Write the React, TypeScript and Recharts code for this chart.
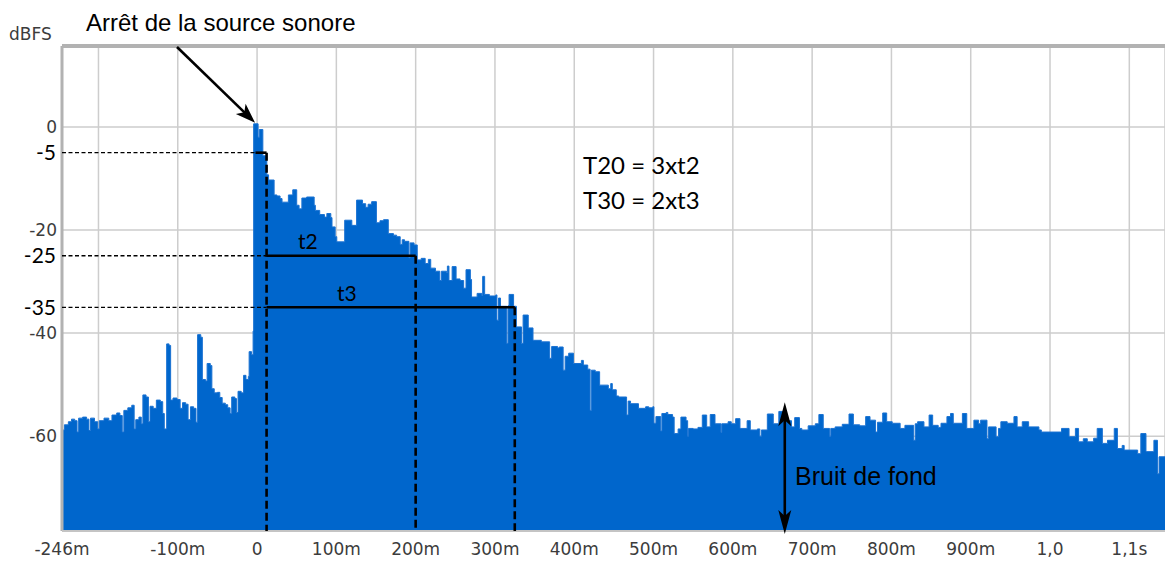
import { ComposedChart, Area, XAxis, YAxis, CartesianGrid, ReferenceLine } from "recharts";

const X_MIN = -246;
const X_MAX = 1145;
const Y_MIN = -78.4;
const Y_MAX = 15.7;

const xTicks = [-246, -200, -100, 0, 100, 200, 300, 400, 500, 600, 700, 800, 900, 1000, 1100];
const xTickLabels = ["-246m", "", "-100m", "0", "100m", "200m", "300m", "400m", "500m", "600m", "700m", "800m", "900m", "1,0", "1,1s"];
const yTicks = [0, -20, -40, -60];

// [time ms, level dBFS]
const preOnset: [number, number][] = [
  [-246, -58.8], [-243, -57.8], [-238, -57.2], [-234, -56.7], [-230, -57.0], [-227, -59.2],
  [-225, -56.5], [-220, -56.3], [-215, -56.7], [-212, -58.9], [-210, -56.5], [-205, -57.2],
  [-201, -58.6], [-199, -57.0], [-193, -56.5], [-187, -57.0], [-183, -55.9], [-177, -55.5],
  [-173, -56.0], [-170, -59.2], [-168, -55.0], [-163, -54.5], [-158, -54.0], [-155, -58.6],
  [-153, -56.8], [-149, -56.3], [-146, -57.6], [-144, -52.0], [-140, -52.4], [-137, -57.2],
  [-135, -54.2], [-131, -54.6], [-127, -53.0], [-122, -53.3], [-119, -55.6], [-117, -58.6],
  [-114, -42.1], [-111, -42.4], [-109, -53.0], [-106, -52.6], [-101, -52.9], [-97, -54.6],
  [-94, -53.5], [-90, -53.8], [-87, -56.8], [-84, -54.3], [-80, -54.6], [-77, -57.3],
  [-75, -40.3], [-71, -40.8], [-69, -49.0], [-65, -49.3], [-63, -45.9], [-59, -46.3],
  [-57, -50.8], [-54, -51.6], [-50, -51.5], [-47, -52.5], [-44, -53.6], [-40, -53.9],
  [-37, -54.5], [-34, -55.6], [-32, -52.4], [-28, -52.7], [-26, -55.4], [-24, -51.3],
  [-20, -51.6], [-17, -48.2], [-14, -49.0], [-11, -48.4], [-10, -43.6], [-7, -44.2],
  [-5, -39.6],
];

const onset: [number, number][] = [
  [-4.3, 0.6], [1.3, -2.0], [2.8, -0.5], [7.3, -5.6], [12.3, -9.3], [14.5, -10.3],
  [21.5, -13.2], [25, -13.4], [29, -13.9], [31.5, -14.6], [39.5, -13.2], [45, -12.2],
  [50, -15.2], [53, -15.9], [56.5, -13.8], [62.5, -13.6], [72, -15.2], [73.5, -16.2],
  [79, -17.0], [85, -17.5], [88, -16.8], [93, -17.6], [94.5, -19.4], [98.5, -21.3],
  [100.5, -22.3], [110.5, -18.1], [119.5, -19.1], [125.5, -14.2], [133, -14.9], [137, -15.6],
  [140, -15.0], [144.5, -14.5], [150.5, -18.6], [155, -18.2], [159.5, -18.0], [165.5, -20.7],
  [172, -21.0], [176, -21.3], [180.5, -22.8], [183, -21.9], [186, -22.2], [191.5, -25.4],
  [193, -22.5], [198, -22.9],
];

const decay: [number, number][] = [
  [202, -25.8], [207, -25.5], [212, -26.5], [216, -25.7], [219, -27.4], [225, -28.0],
  [230.5, -29.8], [232.5, -28.0], [239, -28.3], [240, -27.0], [242, -29.8], [246, -27.1],
  [251, -29.5], [256, -29.8], [260.5, -31.3], [263.5, -27.7], [269, -29.6], [270.5, -33.0],
  [277.5, -32.3], [283.5, -32.7], [284.5, -29.0], [287, -32.5], [293, -32.8], [301, -32.6],
  [302.5, -37.5], [304.5, -33.2], [307, -34.8], [315, -42.0], [316.5, -34.7], [317.8, -32.5],
  [323.5, -34.8], [327, -38.8], [333.5, -42.0], [335.5, -36.5], [342, -39.0], [348, -41.4],
  [358.5, -41.7], [369, -44.9], [371.5, -42.6], [379, -42.9], [381, -42.7], [386, -47.2],
  [388.5, -44.5], [393, -43.9], [399, -45.9], [409, -45.3], [411.5, -46.2], [417, -47.0],
  [420, -55.0], [421.5, -47.2], [426.5, -47.5], [432, -50.1], [443, -50.8], [446, -49.8],
  [448, -51.0], [453, -52.2], [456, -52.4], [466, -55.9], [468, -53.2], [471, -53.7],
  [481, -54.6],
];

const noiseFloor: [number, number][] = [
  [484, -54.6], [490, -54.3], [494, -54.5], [499, -54.3], [500.5, -57.5], [503, -56.2],
  [509, -59.0], [510.5, -55.6], [516, -55.4], [518, -55.8], [524, -56.3], [526, -59.5],
  [531, -58.6], [534.5, -56.3], [541, -57.0], [543, -60.0], [544, -58.5], [550, -58.6],
  [556, -58.3], [561.5, -55.9], [567, -58.2], [571.5, -55.8], [577.5, -57.6], [585, -59.3],
  [586, -57.6], [594, -57.2], [598, -57.6], [603.5, -56.6], [609, -58.5], [618, -57.0],
  [622, -58.8], [631, -58.6], [634, -60.0], [636, -58.8], [643.5, -55.7], [651, -57.6],
  [658, -55.2], [665, -57.0], [674, -58.2], [678, -56.4], [684, -58.5], [687, -58.8],
  [695, -58.0], [704, -57.6], [708.5, -55.8], [714, -58.5], [722, -60.0], [723.5, -58.5],
  [729, -58.2], [738, -57.7], [746.5, -55.7], [752, -57.8], [760, -58.0], [767.5, -56.2],
  [773, -56.9], [780, -59.2], [782.5, -57.3], [789, -55.5], [794, -57.2], [801, -57.5],
  [811, -58.5], [817, -57.9], [828, -60.8], [830, -57.6], [833, -57.2], [841, -58.2],
  [847.5, -55.9], [852, -57.9], [859, -58.3], [862.5, -57.5], [870, -56.2], [874.5, -55.6],
  [878, -57.5], [889.5, -55.6], [895, -58.5], [904, -56.9], [910, -57.6], [912.5, -56.9],
  [920.5, -60.5], [922.5, -58.2], [932, -60.1], [935, -58.5], [938, -57.2], [946, -57.5],
  [954.5, -56.2], [958.5, -58.2], [965, -57.2], [973, -58.2], [986, -58.8], [989, -59.2],
  [1014.5, -58.5], [1024, -60.1], [1032, -58.5], [1036, -61.1], [1042, -60.5], [1047, -61.1],
  [1055, -60.4], [1059.5, -58.5], [1066, -61.4], [1072.5, -60.8], [1081, -58.5], [1085, -62.4],
  [1091, -61.8], [1093.5, -62.7], [1110.5, -63.4], [1114.5, -59.5], [1121, -63.0], [1131, -60.8],
  [1135.5, -67.3], [1137.5, -64.0], [1145, -64.0],
];

// reading levels: level, start of the decay, end time
const startT = 12;
const readings = [
  { db: -5, end: startT },
  { db: -25, end: 200 },
  { db: -35, end: 325 },
];

const levels = [...preOnset, ...onset, ...decay, ...noiseFloor].map(([t, db]) => ({ t, db }));

const arrow = (both: boolean, L: number, W: number) => (p: any) => {
  const { x1, y1, x2, y2 } = p;
  const d = Math.hypot(x2 - x1, y2 - y1);
  const ux = (x2 - x1) / d;
  const uy = (y2 - y1) / d;
  const head = (tx: number, ty: number, dx: number, dy: number) => {
    const bx = tx - dx * L, by = ty - dy * L;
    const mx = tx - dx * L * 0.75, my = ty - dy * L * 0.75;
    return `${tx},${ty} ${bx - dy * W},${by + dx * W} ${mx},${my} ${bx + dy * W},${by - dx * W}`;
  };
  return (
    <g>
      <line
        x1={both ? x1 + ux * L * 0.6 : x1}
        y1={both ? y1 + uy * L * 0.6 : y1}
        x2={x2 - ux * L * 0.6}
        y2={y2 - uy * L * 0.6}
        stroke="#000"
        strokeWidth={2.6}
      />
      <polygon points={head(x2, y2, ux, uy)} fill="#000" />
      {both && <polygon points={head(x1, y1, -ux, -uy)} fill="#000" />}
    </g>
  );
};

const tickStyle = { fontSize: 17, fill: "#3c3c3c", fontFamily: "DejaVu Sans" };
const note = { fontFamily: "Lato", fontSize: 22, fill: "#000" };

export default function App() {
  return (
    <div style={{ position: "absolute", left: 0, top: 0, width: 1165, height: 561, background: "#fff" }}>
      <ComposedChart width={1165} height={561} data={levels} margin={{ top: 46, right: 0, bottom: 0, left: 0 }}>
        <CartesianGrid stroke="#cdcdcd" strokeWidth={1.5} />
        <XAxis
          dataKey="t"
          type="number"
          domain={[X_MIN, X_MAX]}
          allowDataOverflow
          ticks={xTicks}
          interval={0}
          tickFormatter={(v: number) => xTickLabels[xTicks.indexOf(v)]}
          tick={tickStyle}
          tickSize={0}
          tickMargin={12}
          axisLine={false}
          height={30}
        />
        <YAxis
          type="number"
          domain={[Y_MIN, Y_MAX]}
          allowDataOverflow
          ticks={yTicks}
          interval={0}
          tick={tickStyle}
          tickSize={0}
          tickMargin={5}
          axisLine={false}
          width={62}
        />
        <Area
          type="stepAfter"
          dataKey="db"
          baseValue="dataMin"
          stroke="#1a72d2"
          strokeWidth={1}
          fill="#0066cc"
          fillOpacity={1}
          dot={false}
          activeDot={false}
          isAnimationActive={false}
        />
        <ReferenceLine y={Y_MAX} stroke="#b2b2b2" strokeWidth={4} ifOverflow="visible" />
        <ReferenceLine x={X_MIN} stroke="#b2b2b2" strokeWidth={3} ifOverflow="visible" />
        <ReferenceLine y={Y_MIN} stroke="#c4c4c4" strokeWidth={2} ifOverflow="visible" />
        {readings.map((r) => (
          <ReferenceLine
            key={"h" + r.db}
            segment={[{ x: X_MIN, y: r.db }, { x: r.db === -5 ? -2 : startT, y: r.db }]}
            stroke="#000"
            strokeWidth={1.3}
            strokeDasharray="4 2.5"
            ifOverflow="visible"
            label={{ value: String(r.db), position: "left", offset: 6, ...note, fontSize: 21 }}
          />
        ))}
        {readings.map((r) => (
          <ReferenceLine
            key={"s" + r.db}
            segment={[{ x: r.db === -5 ? -2 : startT, y: r.db }, { x: r.end, y: r.db }]}
            stroke="#000"
            strokeWidth={2.6}
            ifOverflow="visible"
          />
        ))}
        {readings.map((r) => (
          <ReferenceLine
            key={"v" + r.db}
            segment={[{ x: r.end, y: r.db }, { x: r.end, y: Y_MIN }]}
            stroke="#000"
            strokeWidth={2.6}
            strokeDasharray="8 4"
            ifOverflow="visible"
          />
        ))}
        <ReferenceLine
          segment={[{ x: -101, y: 15.5 }, { x: -2.5, y: 0.8 }]}
          ifOverflow="visible"
          shape={arrow(false, 20, 7)}
        />
        <ReferenceLine
          segment={[{ x: 665.5, y: -53.4 }, { x: 665.5, y: -79.0 }]}
          ifOverflow="visible"
          shape={arrow(true, 24, 6.5)}
        />
      </ComposedChart>
      <svg width={1165} height={561} style={{ position: "absolute", left: 0, top: 0, pointerEvents: "none" }}>
        <text x={9} y={40} fontFamily="DejaVu Sans" fontSize={17} fill="#3c3c3c">dBFS</text>
        <text x={86} y={31} fontFamily="Liberation Sans" fontSize={24} fill="#000">Arrêt de la source sonore</text>
        <text x={583} y={174} {...note} fontSize={24}>T20 = 3xt2</text>
        <text x={583} y={209} {...note} fontSize={24}>T30 = 2xt3</text>
        <text x={298} y={249} {...note} fontSize={21}>t2</text>
        <text x={337} y={301} {...note} fontSize={21}>t3</text>
        <text x={795} y={485} fontFamily="Liberation Sans" fontSize={25} fill="#000">Bruit de fond</text>
      </svg>
    </div>
  );
}
